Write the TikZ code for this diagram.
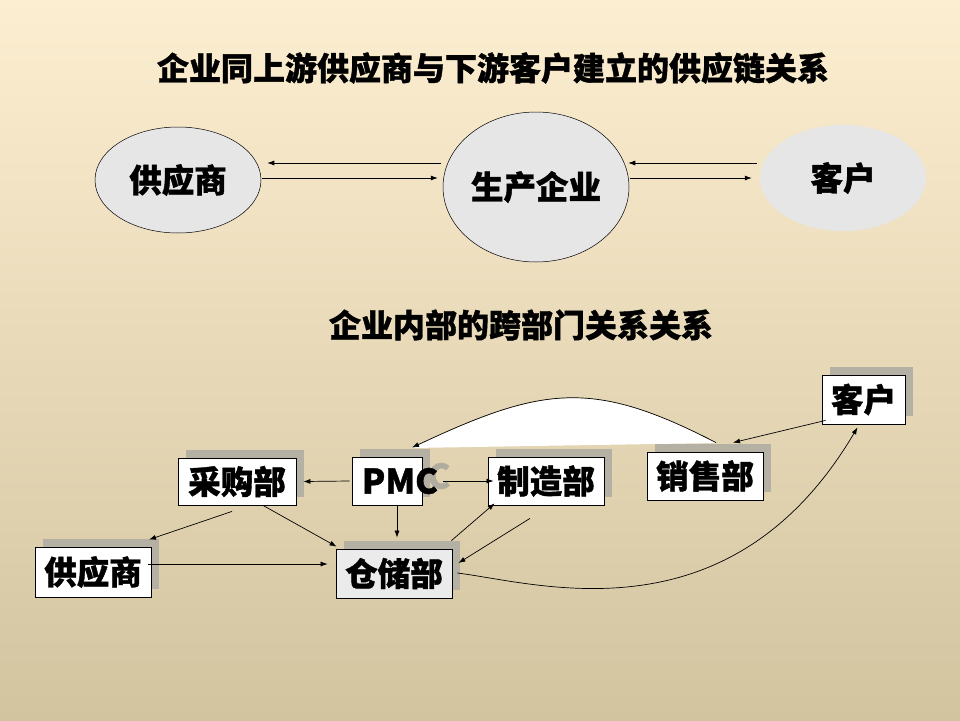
\documentclass[tikz,border=0pt]{standalone}
\usepackage{fontspec}
\newfontfamily\cjk{Noto Sans CJK SC}[BoldFeatures={FakeBold=1.2}]
\usetikzlibrary{shapes.geometric,shadows,arrows.meta,calc}
\definecolor{bgtop}{HTML}{FCEED0}
\definecolor{bgmid}{HTML}{F0E4C8}
\definecolor{bgbot}{HTML}{D3C4A0}
\definecolor{shadowc}{HTML}{B4B1A4}
\definecolor{ghostc}{HTML}{B0ADA0}
\definecolor{ovalc}{HTML}{E6E6E6}
\definecolor{storec}{HTML}{EBEBEB}
\begin{document}
\begin{tikzpicture}[x=1pt,y=-1pt,
  txt/.style={font=\cjk\bfseries\fontsize{32.5}{34}\selectfont, text=black},
  ttl/.style={font=\cjk\bfseries\fontsize{32}{34}\selectfont, text=black},
  box/.style={txt, draw=black, line width=0.8pt, fill=white, minimum height=48pt, minimum width=116pt, inner sep=0pt,
    general shadow={fill=shadowc, shadow xshift=8pt, shadow yshift=8pt}},
  oval/.style={txt, ellipse, fill=ovalc, draw=black, line width=0.5pt, inner sep=0pt},
  arr/.style={-{Latex[length=7pt,width=5pt]}, line width=0.7pt}]
\useasboundingbox (0,0) rectangle (960,720);
\shade[top color=bgtop, middle color=bgmid, bottom color=bgbot] (0,0) rectangle (960,720);

% titles
\node[ttl] (t1) at (493,68) {企业同上游供应商与下游客户建立的供应链关系};
\node[ttl] (t2) at (521,325) {企业内部的跨部门关系关系};

% top ovals
\node[oval, minimum width=166pt, minimum height=106pt] (sup) at (178,180) {供应商};
\node[oval, minimum width=186pt, minimum height=150pt] (prod) at (536,187) {生产企业};
\node[oval, draw=none, minimum width=166pt, minimum height=106pt] (cust) at (843,178) {客户};

\draw[arr] ($(prod.west)+(-2,-24)$) -- ($(sup.east)+(6,-17)$);
\draw[arr] ($(sup.east)+(1,-2)$) -- ($(prod.west)+(-5,-9)$);
\draw[arr] ($(cust.west)+(-3,-15)$) -- ($(prod.east)+(-1,-24)$);
\draw[arr] ($(prod.east)+(1,-9)$) -- ($(cust.west)+(-8,0)$);

% white region under the feedback curve
\fill[white] (716,443) .. controls (593,379) and (543,386) .. (412,448) -- cycle;

% ghost C (text shadow)
\node[txt, font=\cjk\bfseries\fontsize{34}{36}\selectfont, text=ghostc] (ghost) at (439,476) {C};

% boxes
\node[box, minimum width=83pt, minimum height=49pt] (kehu) at (863.5,399.5) {客户};
\node[box] (xs) at (705,476) {销售部};
\node[box, minimum width=70pt, font=\cjk\bfseries\fontsize{34}{36}\selectfont] (pmc) at (387,481) {\makebox[70pt][l]{\hspace{10pt}PMC}};
\node[box] (zz) at (546,481) {制造部};
\node[box, minimum width=118pt, minimum height=47pt] (cg) at (237,481.5) {采购部};
\node[box, minimum height=50pt] (gys) at (93,572) {供应商};
\node[box, fill=storec, minimum height=49pt] (cc) at (394,573.5) {仓储部};

% connectors
\draw[arr] ($(kehu.south west)+(4,-4)$) -- ($(xs.north)+(28,-9)$);
\draw[arr] ($(xs.north)+(11,-9)$) .. controls (593,379) and (543,386) .. ($(pmc.north)+(25,-9)$);
\draw[arr] ($(pmc.west)+(-2,0)$) -- ($(cg.east)+(7,0)$);
\draw[arr] ($(pmc.east)+(21,0)$) -- ($(zz.west)+(6,0)$);
\draw[arr] ($(pmc.south)+(10,0)$) -- ($(cc.north)+(3,-11)$);
\draw[arr] ($(cg.south)+(-5,6)$) -- ($(gys.north)+(56,-7)$);
\draw[arr] ($(cg.south)+(26,0)$) -- ($(cc.north west)+(1,-2)$);
\draw[arr] ($(gys.east)+(-3,-8)$) -- ($(cc.west)+(-8,-9.5)$);
\draw[arr] ($(cc.north east)+(-1,-8)$) -- ($(zz.south west)+(7,-2)$);
\draw[arr] ($(zz.south)+(-16,13)$) -- ($(cc.east)+(6,-10.5)$);
\draw[arr] ($(cc.east)+(5,-0.5)$) .. controls (538,583) and (730,643) .. ($(kehu.south)+(-6,3)$);
\end{tikzpicture}
\end{document}
